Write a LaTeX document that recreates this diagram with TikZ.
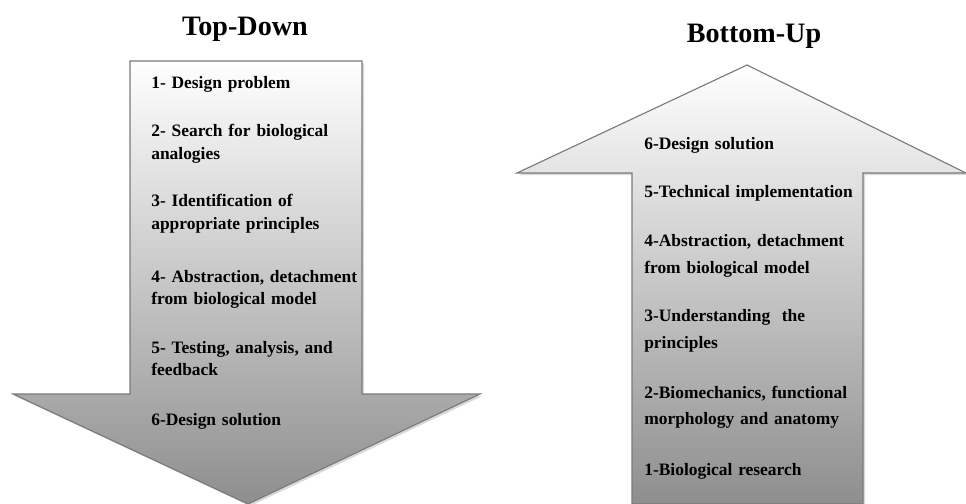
\documentclass[tikz,border=0pt]{standalone}
\usepackage{fontspec}
\setmainfont{Liberation Serif}
\usetikzlibrary{shadows}
\definecolor{ArrowEdge}{HTML}{7A7A7A}
\definecolor{ArrowLight}{HTML}{FFFFFF}
\definecolor{ArrowDark}{HTML}{8E8E8E}
\tikzset{
  bigarrow/.style={
    draw=ArrowEdge,
    line width=0.8pt,
    top color=ArrowLight,
    bottom color=ArrowDark,
    drop shadow={opacity=0.3, shadow xshift=1.5pt, shadow yshift=-1.5pt}
  },
  headline/.style={
    font=\fontsize{20}{24}\selectfont\bfseries,
    inner sep=0pt,
    anchor=base
  },
  steptext/.style={
    font=\fontsize{12.4}{16}\selectfont\bfseries,
    inner sep=0pt,
    anchor=base west,
    text width=5.6cm,
    align=left
  },
  steptextwide/.style={
    steptext,
    font=\fontsize{12.4}{19.2}\selectfont\bfseries
  }
}
\begin{document}
\begin{tikzpicture}[x=0.025cm, y=-0.025cm]
\useasboundingbox (0,0) rectangle (966,504);
% Top-Down arrow
\shade[bigarrow] (130,61) -- (362,61) -- (362,394) -- (480,394) -- (248,504)
  -- (13,394) -- (130,394) -- cycle;
% Bottom-Up arrow
\shade[bigarrow] (747,65) -- (966,173) -- (863,173) -- (863,504) -- (632,504)
  -- (632,173) -- (517,173) -- cycle;
% titles
\node[headline] (tdtitle) at (245,36) {Top-Down};
\node[headline] (butitle) at (754,43) {Bottom-Up};
% Top-Down steps
\node[steptext] (td1) at (151,89)  {1- Design problem};
\node[steptext] (td2) at (151,137) {2- Search for biological\\analogies};
\node[steptext] (td3) at (151,207) {3- Identification of\\appropriate principles};
\node[steptext] (td4) at (151,282) {4- Abstraction, detachment\\from biological model};
\node[steptext] (td5) at (151,353) {5- Testing, analysis, and\\feedback};
\node[steptext] (td6) at (151,425) {6-Design solution};
% Bottom-Up steps
\node[steptextwide] (bu6) at (644,150) {6-Design solution};
\node[steptextwide] (bu5) at (644,198) {5-Technical implementation};
\node[steptextwide] (bu4) at (644,247) {4-Abstraction, detachment\\from biological model};
\node[steptextwide] (bu3) at (644,322) {3-Understanding\ \ the\\principles};
\node[steptextwide] (bu2) at (644,398) {2-Biomechanics, functional\\morphology and anatomy};
\node[steptextwide] (bu1) at (644,475) {1-Biological research};
\end{tikzpicture}
\end{document}
